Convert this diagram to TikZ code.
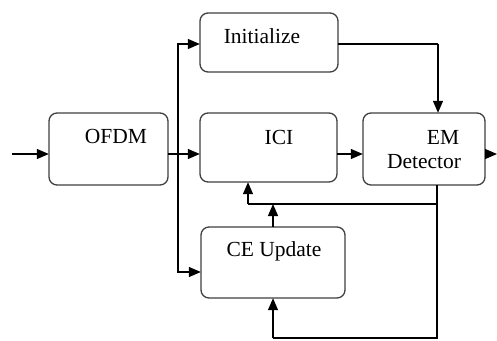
\documentclass[tikz,border=0pt]{standalone}
\usepackage{fontspec}
\setmainfont{Liberation Serif}
\usetikzlibrary{arrows.meta,calc}
\begin{document}
\begin{tikzpicture}[x=1pt,y=-1pt,
  blk/.style={draw=black!75,line width=1.3pt,rounded corners=8pt,fill=white},
  lbl/.style={anchor=base,inner sep=0pt,font=\fontsize{21.5}{24}\selectfont},
  conn/.style={line width=1.3pt,-{Triangle[length=12pt,width=10pt]}},
  plain/.style={line width=1.3pt}]
\useasboundingbox (0,0) rectangle (497,340);
% boxes
\draw[blk] (49,113) rectangle (168,185);
\node[inner sep=0pt] (ofdm) at (108.5,149) [minimum width=119pt,minimum height=72pt] {};
\draw[blk] (200,13) rectangle (338,72);
\node[inner sep=0pt] (init) at (269,42.5) [minimum width=138pt,minimum height=59pt] {};
\draw[blk] (200,113) rectangle (337,182);
\node[inner sep=0pt] (ici) at (268.5,147.5) [minimum width=137pt,minimum height=69pt] {};
\draw[blk] (363,113) rectangle (485,185);
\node[inner sep=0pt] (em) at (424,149) [minimum width=122pt,minimum height=72pt] {};
\draw[blk] (201,227) rectangle (345,298);
\node[inner sep=0pt] (ce) at (273,262.5) [minimum width=144pt,minimum height=71pt] {};
% labels
\node[lbl] (tofdm) at (116,143) {OFDM};
\node[lbl] (tinit) at (262,43) {Initialize};
\node[lbl] (tici) at (279,144) {ICI};
\node[lbl] (tem) at (443,144) {EM};
\node[lbl] (tdet) at (424,168) {Detector};
\node[lbl] (tce) at (274,256) {CE Update};
% coordinates
\coordinate (in) at (12,154);
\coordinate (br) at (178,154);
\coordinate (out) at (497,154);
\coordinate (c1) at (438,44);
\coordinate (f1) at (437,338);
\coordinate (f2) at (273,338);
\coordinate (g1) at (437,204);
\coordinate (g2) at (248,204);
% connectors
\draw[conn] (in) -- (ofdm.west |- in);
\draw[conn] (ofdm.east |- in) -- (ici.west |- in);
\draw[conn] (br) |- (init.west |- c1);
\draw[conn] (br) |- (ce.west |- 0,272);
\draw[plain] (init.east |- c1) -- (c1);
\draw[conn] (c1) -- (em.north -| c1);
\draw[conn] (ici.east |- in) -- (em.west |- in);
\draw[conn] (em.east |- in) -- (out);
\draw[plain] (em.south -| f1) -- (f1) -- (f2);
\draw[conn] (f2) -- (ce.south -| f2);
\draw[plain] (g1) -- (g2);
\draw[conn] (g2) -- (ici.south -| g2);
\draw[conn] (ce.north -| f2) -- (f2 |- g1);
\end{tikzpicture}
\end{document}
